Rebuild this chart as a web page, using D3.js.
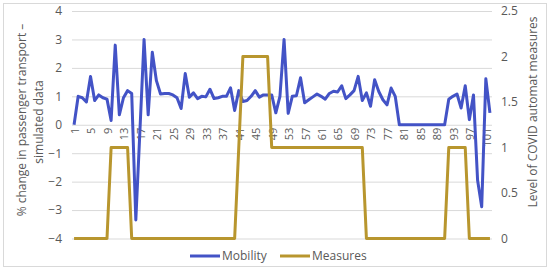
<!DOCTYPE html>
<head>
<style>
body { margin: 0; background: #fff; }
text {
  font-family: "Open Sans", "Noto Sans", sans-serif;
  fill: #595959;
}
.grid line { stroke: #d9d9d9; stroke-width: 1px; }
</style>
<meta charset="utf-8">
<title></title>
</head>

<body>
<script type="text/javascript" src="https://cdn.jsdelivr.net/npm/d3@7"></script>
<script>

// day index 1..102
var categories = d3.range(1, 103);

var mobility = [
  0, 1.0, 0.95, 0.8, 1.7, 0.85, 1.05, 0.95, 0.9, 0.15,
  2.8, 0.35, 0.95, 1.2, 1.1, -3.35, -0.2, 3.0, 0.35, 2.55,
  1.55, 1.08, 1.1, 1.1, 1.05, 0.95, 0.57, 1.8, 0.97, 1.12,
  0.92, 1.0, 0.98, 1.25, 0.92, 0.95, 1.0, 1.0, 1.3, 0.5,
  1.2, 0.82, 0.85, 1.0, 1.2, 0.97, 1.05, 1.05, 1.05, 0.42,
  1.0, 3.0, 0.4, 1.0, 1.02, 1.65, 0.77, 0.88, 0.98, 1.08,
  1.0, 0.9, 1.1, 1.18, 1.15, 1.37, 0.92, 1.05, 1.2, 1.7,
  0.85, 1.12, 0.65, 1.58, 1.17, 0.88, 0.7, 1.29, 1.0, 0,
  0, 0, 0, 0, 0, 0, 0, 0, 0, 0,
  0, 0.9, 1.0, 1.08, 0.59, 1.37, 0.18, 1.05, -1.95, -2.88,
  1.62, 0.42
];

var measures = [
  0, 0, 0, 0, 0, 0, 0, 0, 0, 1,
  1, 1, 1, 1, 0, 0, 0, 0, 0, 0,
  0, 0, 0, 0, 0, 0, 0, 0, 0, 0,
  0, 0, 0, 0, 0, 0, 0, 0, 0, 0,
  1, 2, 2, 2, 2, 2, 2, 2, 1, 1,
  1, 1, 1, 1, 1, 1, 1, 1, 1, 1,
  1, 1, 1, 1, 1, 1, 1, 1, 1, 1,
  1, 0, 0, 0, 0, 0, 0, 0, 0, 0,
  0, 0, 0, 0, 0, 0, 0, 0, 0, 0,
  0, 1, 1, 1, 1, 1, 0, 0, 0, 0,
  0, 0
];

var leftTicks = [-4, -3, -2, -1, 0, 1, 2, 3, 4];
var rightTicks = [0, 0.5, 1, 1.5, 2, 2.5];
var xTickLabels = categories.filter(function(d) { return (d - 1) % 4 == 0; });

var seriesNames = ["Mobility", "Measures"];
var seriesColors = ["#4353c6", "#b8962e"];

var width = 550,
    height = 271;

var svg = d3.select("body").append("svg")
    .attr("width", width)
    .attr("height", height);

// chart frame
svg.append("rect")
    .attr("x", 3.5).attr("y", 3.5)
    .attr("width", 543).attr("height", 263)
    .attr("fill", "#fff")
    .attr("stroke", "#d9d9d9");

var x = d3.scaleBand()
    .domain(categories)
    .range([72, 492]);

var y = d3.scaleLinear()
    .domain([-4, 4])
    .range([238.5, 11]);

var y2 = d3.scaleLinear()
    .domain([0, 2.5])
    .range([238.5, 11]);

function cx(d) { return x(d) + x.bandwidth() / 2; }

// gridlines
svg.append("g")
    .attr("class", "grid")
    .attr("transform", "translate(72,0)")
    .call(d3.axisLeft(y).tickValues(leftTicks).tickSize(-420).tickFormat(""))
    .call(function(g) { g.select(".domain").remove(); });

// left axis labels
svg.append("g")
    .attr("transform", "translate(62,0)")
    .call(d3.axisLeft(y).tickValues(leftTicks).tickSize(0).tickPadding(0))
    .call(function(g) { g.select(".domain").remove(); })
    .selectAll("text")
    .style("font-size", "12px")
    .style("font-family", "\"Open Sans\", sans-serif")
    .attr("fill", "#595959");

// right axis labels
svg.append("g")
    .attr("transform", "translate(501,0)")
    .call(d3.axisRight(y2).tickValues(rightTicks).tickSize(0).tickPadding(0)
        .tickFormat(function(d) { return String(d); }))
    .call(function(g) { g.select(".domain").remove(); })
    .selectAll("text")
    .style("font-size", "12px")
    .style("font-family", "\"Open Sans\", sans-serif")
    .attr("fill", "#595959");

// x labels sit under the zero line
svg.append("g")
    .selectAll("text")
    .data(xTickLabels)
    .enter()
    .append("text")
    .attr("transform", function(d) { return "translate(" + (cx(d) + 1) + "," + (y(0) + 3) + ") rotate(-90)"; })
    .attr("text-anchor", "end")
    .attr("dy", "0.35em")
    .style("font-size", "11px")
    .text(function(d) { return d; });

var lineLeft = d3.line()
    .x(function(d, i) { return cx(categories[i]); })
    .y(function(d) { return y(d); });

var lineRight = d3.line()
    .x(function(d, i) { return cx(categories[i]); })
    .y(function(d) { return y2(d); });

svg.append("path")
    .datum(mobility)
    .attr("d", lineLeft)
    .attr("fill", "none")
    .attr("stroke", seriesColors[0])
    .attr("stroke-width", 3)
    .attr("stroke-linejoin", "round");

svg.append("path")
    .datum(measures)
    .attr("d", lineRight)
    .attr("fill", "none")
    .attr("stroke", seriesColors[1])
    .attr("stroke-width", 3)
    .attr("stroke-linejoin", "round");

// axis titles
svg.append("text")
    .attr("transform", "translate(26,120) rotate(-90)")
    .attr("text-anchor", "middle")
    .style("font-size", "12px")
    .text("% change in passenger transport \u2013");

svg.append("text")
    .attr("transform", "translate(43,122) rotate(-90)")
    .attr("text-anchor", "middle")
    .style("font-size", "12px")
    .text("simulated data");

svg.append("text")
    .attr("transform", "translate(537,112) rotate(-90)")
    .attr("text-anchor", "middle")
    .style("font-size", "12px")
    .text("Level of COVID automat measures");

// legend
var legendX = [190, 280];
var legend = svg.selectAll(".legend")
    .data(seriesNames)
    .enter().append("g")
    .attr("class", "legend")
    .attr("transform", function(d, i) { return "translate(" + legendX[i] + ",256)"; });

legend.append("line")
    .attr("x1", 0).attr("x2", 30)
    .attr("stroke", function(d, i) { return seriesColors[i]; })
    .attr("stroke-width", 3);

legend.append("text")
    .attr("x", 32)
    .attr("dy", "0.35em")
    .style("font-size", "12px")
    .text(function(d) { return d; });

</script>
</body>
</html>
